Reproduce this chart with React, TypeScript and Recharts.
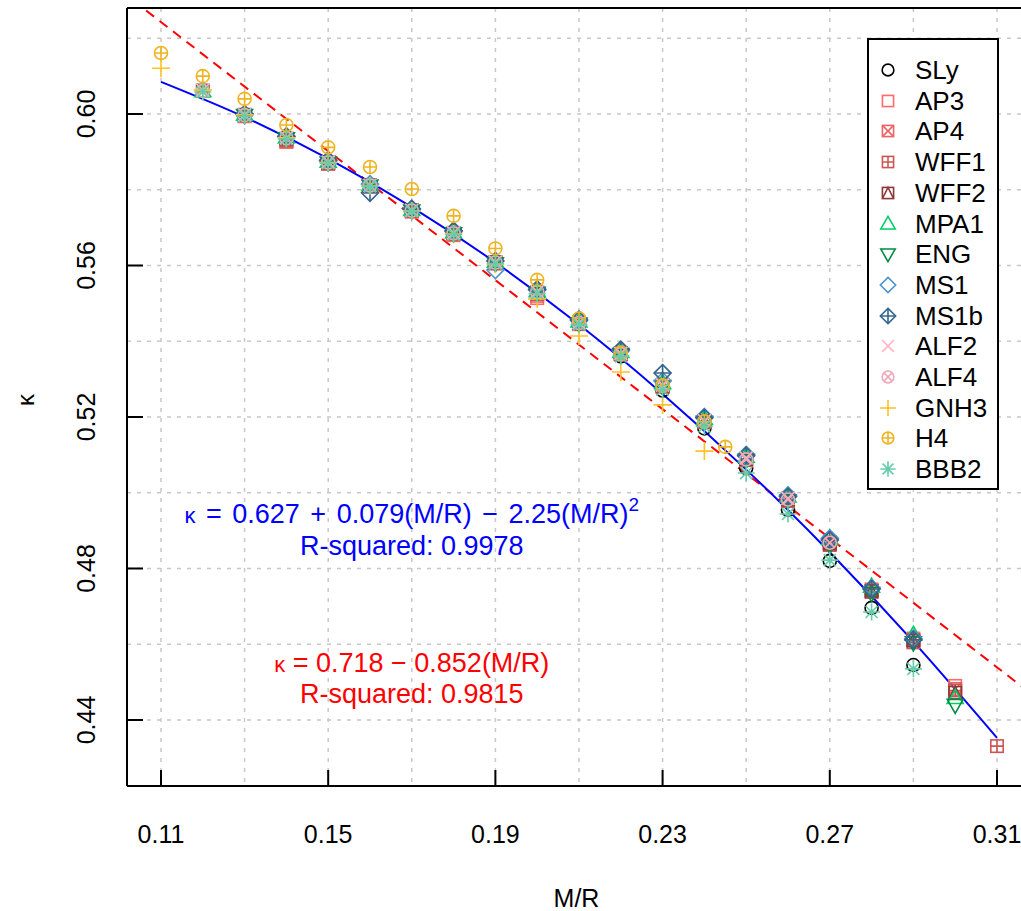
import React from "react";
import {
  ComposedChart, Scatter, Line, XAxis, YAxis, CartesianGrid,
  Legend, ReferenceDot, ReferenceLine,
} from "recharts";

// M/R grid that the EOS points sit on
const MR = [0.11, 0.12, 0.13, 0.14, 0.15, 0.16, 0.17, 0.18, 0.19, 0.2, 0.21,
  0.22, 0.23, 0.24, 0.25, 0.26, 0.27, 0.28, 0.29, 0.3, 0.31];

// kappa values per EOS, aligned with MR (null = no point)
const SLY = [null, null, 0.5996, 0.5936, 0.5871, 0.581, 0.5744, 0.5683, 0.5607, 0.5528, 0.5446, 0.536, 0.527, 0.517, 0.5065, 0.4955, 0.482, 0.4696, 0.4545, null, null];
const AP3 = [null, null, 0.5994, 0.5926, 0.5868, 0.5808, 0.5742, 0.568, 0.5605, 0.5514, 0.5445, 0.5365, 0.528, 0.519, 0.509, 0.4985, 0.487, 0.4745, 0.4615, 0.449, null];
const AP4 = [null, null, 0.5995, 0.5928, 0.587, 0.581, 0.5745, 0.5683, 0.5607, 0.552, 0.5447, 0.5367, 0.5282, 0.5188, 0.5088, 0.498, 0.4865, 0.474, 0.461, 0.4482, null];
const WFF1 = [null, null, null, 0.593, 0.587, 0.581, 0.5744, 0.5683, 0.5606, 0.5525, 0.5446, 0.5366, 0.528, 0.5186, 0.5086, 0.4978, 0.4862, 0.4738, 0.4605, 0.4478, 0.4331];
const WFF2 = [null, 0.6062, 0.5998, 0.5935, 0.5872, 0.5812, 0.5746, 0.5686, 0.5609, 0.553, 0.5449, 0.5368, 0.5283, 0.5189, 0.5089, 0.4982, 0.4866, 0.4741, 0.461, 0.4472, null];
const MPA1 = [null, 0.606, 0.5998, 0.5938, 0.5874, 0.5813, 0.5747, 0.5687, 0.561, 0.5532, 0.5452, 0.5372, 0.529, 0.5195, 0.5095, 0.499, 0.4878, 0.4752, 0.4625, 0.4458, null];
const ENG = [null, null, 0.5997, 0.5936, 0.5872, 0.5811, 0.5745, 0.5685, 0.5606, 0.5528, 0.5447, 0.5366, 0.5282, 0.5187, 0.5087, 0.498, 0.4862, 0.4735, 0.4605, 0.444, null];
const MS1 = [null, null, 0.5999, 0.594, 0.5876, 0.5815, 0.5748, 0.569, 0.5588, 0.5535, 0.5455, 0.5375, 0.5295, 0.52, 0.51, 0.4993, 0.488, 0.4748, 0.4615, null, null];
const MS1B = [null, null, 0.6, 0.5941, 0.5878, 0.5792, 0.575, 0.5692, 0.5612, 0.5537, 0.5457, 0.5378, 0.5316, 0.5198, 0.5098, 0.499, 0.4875, 0.4746, 0.4612, null, null];
const ALF2 = [null, 0.6063, 0.5998, 0.5937, 0.5873, 0.5812, 0.5746, 0.5686, 0.5609, 0.5531, 0.5449, 0.5368, 0.5284, 0.519, 0.5092, 0.4985, null, null, null, null, null];
const ALF4 = [null, 0.6061, 0.5997, 0.5936, 0.5872, 0.5811, 0.5745, 0.5685, 0.5608, 0.553, 0.5448, 0.5366, 0.5282, 0.5188, 0.5088, 0.4982, 0.4868, null, null, null, null];
const GNH3 = [0.6121, 0.6063, 0.5998, 0.5937, 0.5872, 0.581, 0.5744, 0.5683, 0.5604, 0.5512, 0.5414, 0.5319, 0.5232, 0.511, null, null, null, null, null, null, null];
const BBB2 = [null, 0.6058, 0.5994, 0.5934, 0.587, 0.5809, 0.5743, 0.5682, 0.5605, 0.5526, 0.5444, 0.536, 0.5272, 0.5175, 0.5052, 0.4944, 0.4822, 0.4685, 0.4535, null, null];

// H4 stops between grid points
const H4_MR = [0.11, 0.12, 0.13, 0.14, 0.15, 0.16, 0.17, 0.18, 0.19, 0.2, 0.21, 0.22, 0.23, 0.24, 0.245];
const H4 = [0.6161, 0.61, 0.604, 0.5971, 0.5912, 0.586, 0.5802, 0.5731, 0.5645, 0.5562, 0.546, 0.537, 0.5284, 0.5188, 0.5121];

// fitted curves
const QUAD_MR = [0.11, 0.13, 0.15, 0.17, 0.19, 0.21, 0.23, 0.25, 0.27, 0.29, 0.31];
const QUAD_K = [0.6085, 0.5992, 0.5882, 0.5754, 0.5608, 0.5444, 0.5261, 0.5061, 0.4843, 0.4607, 0.4353];
const LIN_MR = [0.1, 0.32];
const LIN_K = [0.6328, 0.4454];

const X_TICKS = [0.11, 0.13, 0.15, 0.17, 0.19, 0.21, 0.23, 0.25, 0.27, 0.29, 0.31];
const X_LABELS = ["0.11", "0.15", "0.19", "0.23", "0.27", "0.31"];
const Y_TICKS = [0.44, 0.46, 0.48, 0.5, 0.52, 0.54, 0.56, 0.58, 0.6, 0.62];
const Y_LABELS = ["0.44", "0.48", "0.52", "0.56", "0.60"];

const FONT = "'Liberation Sans', Arial, sans-serif";

const SERIES = [
  { name: "SLy", k: SLY, mr: MR, shape: "circle", color: "#000000" },
  { name: "AP3", k: AP3, mr: MR, shape: "square", color: "#FF6A6A" },
  { name: "AP4", k: AP4, mr: MR, shape: "squareX", color: "#EE6363" },
  { name: "WFF1", k: WFF1, mr: MR, shape: "squarePlus", color: "#CD5555" },
  { name: "WFF2", k: WFF2, mr: MR, shape: "squareTri", color: "#8B3A3A" },
  { name: "MPA1", k: MPA1, mr: MR, shape: "triUp", color: "#00CD66" },
  { name: "ENG", k: ENG, mr: MR, shape: "triDown", color: "#008B45" },
  { name: "MS1", k: MS1, mr: MR, shape: "diamond", color: "#4F94CD" },
  { name: "MS1b", k: MS1B, mr: MR, shape: "diamondPlus", color: "#36648B" },
  { name: "ALF2", k: ALF2, mr: MR, shape: "cross", color: "#FFB5C5" },
  { name: "ALF4", k: ALF4, mr: MR, shape: "circleX", color: "#EEA9B8" },
  { name: "GNH3", k: GNH3, mr: MR, shape: "plus", color: "#FFC125" },
  { name: "H4", k: H4, mr: H4_MR, shape: "circlePlus", color: "#EEB422" },
  { name: "BBB2", k: BBB2, mr: MR, shape: "asterisk", color: "#66CDAA" },
];

function Marker({ kind, color, cx, cy, s = 1 }: any) {
  const sw = 1.6;
  const r = 6.5 * s; // circle
  const h = 6.2 * s; // square half side
  const p = { fill: "none", stroke: color, strokeWidth: sw };
  const sq = <rect x={cx - h} y={cy - h} width={2 * h} height={2 * h} {...p} />;
  const ci = <circle cx={cx} cy={cy} r={r} {...p} />;
  const dm = 8.5 * s;
  switch (kind) {
    case "circle": return ci;
    case "square": return sq;
    case "squareX":
      return <g>{sq}<path d={`M${cx - h},${cy - h}L${cx + h},${cy + h}M${cx - h},${cy + h}L${cx + h},${cy - h}`} {...p} /></g>;
    case "squarePlus":
      return <g>{sq}<path d={`M${cx - h},${cy}L${cx + h},${cy}M${cx},${cy - h}L${cx},${cy + h}`} {...p} /></g>;
    case "squareTri":
      return <g>{sq}<path d={`M${cx - h},${cy + h}L${cx},${cy - h}L${cx + h},${cy + h}`} {...p} /></g>;
    case "triUp": {
      const w = 8 * s, t = 8.5 * s, b = 5.5 * s;
      return <path d={`M${cx},${cy - t}L${cx + w},${cy + b}L${cx - w},${cy + b}Z`} {...p} />;
    }
    case "triDown": {
      const w = 8 * s, t = 8.5 * s, b = 5.5 * s;
      return <path d={`M${cx},${cy + t}L${cx + w},${cy - b}L${cx - w},${cy - b}Z`} {...p} />;
    }
    case "diamond":
      return <path d={`M${cx},${cy - dm}L${cx + dm},${cy}L${cx},${cy + dm}L${cx - dm},${cy}Z`} {...p} />;
    case "diamondPlus":
      return <g><path d={`M${cx},${cy - dm}L${cx + dm},${cy}L${cx},${cy + dm}L${cx - dm},${cy}Z`} {...p} />
        <path d={`M${cx - dm},${cy}L${cx + dm},${cy}M${cx},${cy - dm}L${cx},${cy + dm}`} {...p} /></g>;
    case "cross": {
      const c = 6.5 * s;
      return <path d={`M${cx - c},${cy - c}L${cx + c},${cy + c}M${cx - c},${cy + c}L${cx + c},${cy - c}`} {...p} />;
    }
    case "circleX": {
      const c = r * 0.7071;
      return <g>{ci}<path d={`M${cx - c},${cy - c}L${cx + c},${cy + c}M${cx - c},${cy + c}L${cx + c},${cy - c}`} {...p} /></g>;
    }
    case "plus": {
      const c = 9 * s;
      return <path d={`M${cx - c},${cy}L${cx + c},${cy}M${cx},${cy - c}L${cx},${cy + c}`} {...p} />;
    }
    case "circlePlus":
      return <g>{ci}<path d={`M${cx - r},${cy}L${cx + r},${cy}M${cx},${cy - r}L${cx},${cy + r}`} {...p} /></g>;
    case "asterisk": {
      const c = 8.5 * s, d = c * 0.7071;
      return <path d={`M${cx - c},${cy}L${cx + c},${cy}M${cx},${cy - c}L${cx},${cy + c}M${cx - d},${cy - d}L${cx + d},${cy + d}M${cx - d},${cy + d}L${cx + d},${cy - d}`} {...p} />;
    }
    default: return null;
  }
}

function XTick({ x, y, payload }: any) {
  const lab = payload.value.toFixed(2);
  if (!X_LABELS.includes(lab)) return null;
  return (
    <g>
      <line x1={x} y1={y} x2={x} y2={y - 16} stroke="#000" strokeWidth={2} />
      <text x={x} y={y + 57} textAnchor="middle" fontSize={25} fontFamily={FONT} fill="#000">{lab}</text>
    </g>
  );
}

function YTick({ x, y, payload }: any) {
  const lab = payload.value.toFixed(2);
  if (!Y_LABELS.includes(lab)) return null;
  return (
    <g>
      <line x1={x} y1={y} x2={x + 16} y2={y} stroke="#000" strokeWidth={2} />
      <text x={95} y={y} transform={`rotate(-90, 95, ${y})`} textAnchor="middle" fontSize={25} fontFamily={FONT} fill="#000">{lab}</text>
    </g>
  );
}

function LegendBox() {
  return (
    <div style={{ position: "relative", width: 132, height: 452, border: "2px solid #000", boxSizing: "border-box", background: "#fff" }}>
      {SERIES.map((s, i) => {
        const cy = 30 + i * 30.7;
        return (
          <div key={s.name} style={{ position: "absolute", left: 0, top: cy - 16, height: 32, width: 128 }}>
            <svg width={40} height={32} style={{ position: "absolute", left: 0, top: 0 }}>
              <Marker kind={s.shape} color={s.color} cx={19} cy={16} s={0.9} />
            </svg>
            <span style={{ position: "absolute", left: 46, top: 1, fontSize: 26, lineHeight: "30px", fontFamily: FONT, color: "#000", whiteSpace: "nowrap" }}>{s.name}</span>
          </div>
        );
      })}
    </div>
  );
}

const textLabel = (parts: React.ReactNode, color: string) => (props: any) => {
  const vb = props.viewBox;
  return (
    <text x={vb.x} y={vb.y} textAnchor="middle" fontSize={27} fontFamily={FONT} fill={color}>{parts}</text>
  );
};

const op = (s: string) => <tspan dx={3}>{s}</tspan>;

export default function App() {
  const quad = QUAD_MR.map((x, i) => ({ x, y: QUAD_K[i] }));
  const lin = LIN_MR.map((x, i) => ({ x, y: LIN_K[i] }));
  return (
    <div style={{ position: "absolute", left: 0, top: 0, width: 1021, height: 911, overflow: "hidden", background: "#fff" }}>
      <ComposedChart width={1040} height={911} margin={{ top: 8, right: 14, left: 0, bottom: 0 }}>
        <CartesianGrid stroke="#c8c8c8" strokeWidth={1.5} strokeDasharray="4 6" />
        <XAxis
          type="number" dataKey="x" domain={[0.10187, 0.31694]} allowDataOverflow
          ticks={X_TICKS} interval={0} tickSize={0} tickMargin={0} tickLine={false}
          tick={<XTick />} height={125} axisLine={{ stroke: "#000", strokeWidth: 2 }}
          label={(p: any) => (
            <text x={p.viewBox.x + p.viewBox.width / 2} y={907} textAnchor="middle" fontSize={25} fontFamily={FONT}>M/R</text>
          )}
        />
        <YAxis
          type="number" dataKey="y" domain={[0.42257, 0.62799]} allowDataOverflow
          ticks={Y_TICKS} interval={0} tickSize={0} tickMargin={0} tickLine={false}
          tick={<YTick />} width={127} axisLine={{ stroke: "#000", strokeWidth: 2 }}
          label={() => (
            <text x={34} y={400} transform="rotate(-90, 34, 400)" textAnchor="middle" fontSize={24} fontFamily={FONT}>κ</text>
          )}
        />
        <ReferenceLine y={0.62799} stroke="#000" strokeWidth={2} />
        {SERIES.map((s) => (
          <Scatter
            key={s.name}
            name={s.name}
            data={s.mr.map((x, i) => ({ x, y: s.k[i] })).filter((d) => d.y != null)}
            isAnimationActive={false}
            shape={(p: any) => <Marker kind={s.shape} color={s.color} cx={p.cx} cy={p.cy} />}
          />
        ))}
        <Line data={lin} dataKey="y" type="linear" stroke="#FF0000" strokeWidth={2} strokeDasharray="10 7" dot={false} isAnimationActive={false} />
        <Line data={quad} dataKey="y" type="monotone" stroke="#0000FF" strokeWidth={2} dot={false} isAnimationActive={false} />
        <ReferenceDot x={0.17} y={0.49201} r={0} fill="none" stroke="none"
          label={textLabel(<><tspan fontSize={22}>κ</tspan>{op(" = ")}<tspan dx={3}>0.627</tspan>{op(" + ")}<tspan dx={3}>0.079(M/R)</tspan>{op(" − ")}<tspan dx={3}>2.25(M/R)</tspan><tspan fontSize={19} dy={-12}>2</tspan></>, "#0000FF")} />
        <ReferenceDot x={0.17} y={0.48356} r={0} fill="none" stroke="none" label={textLabel("R-squared: 0.9978", "#0000FF")} />
        <ReferenceDot x={0.17} y={0.45267} r={0} fill="none" stroke="none"
          label={textLabel(<><tspan fontSize={22}>κ</tspan>{" = 0.718 − 0.852(M/R)"}</>, "#FF0000")} />
        <ReferenceDot x={0.17} y={0.44449} r={0} fill="none" stroke="none" label={textLabel("R-squared: 0.9815", "#FF0000")} />
        <Legend
          layout="horizontal" verticalAlign="middle" align="center" width={132} height={452}
          wrapperStyle={{ left: 867, top: 38, width: 132, height: 452 }}
          content={() => <LegendBox />}
        />
      </ComposedChart>
    </div>
  );
}
